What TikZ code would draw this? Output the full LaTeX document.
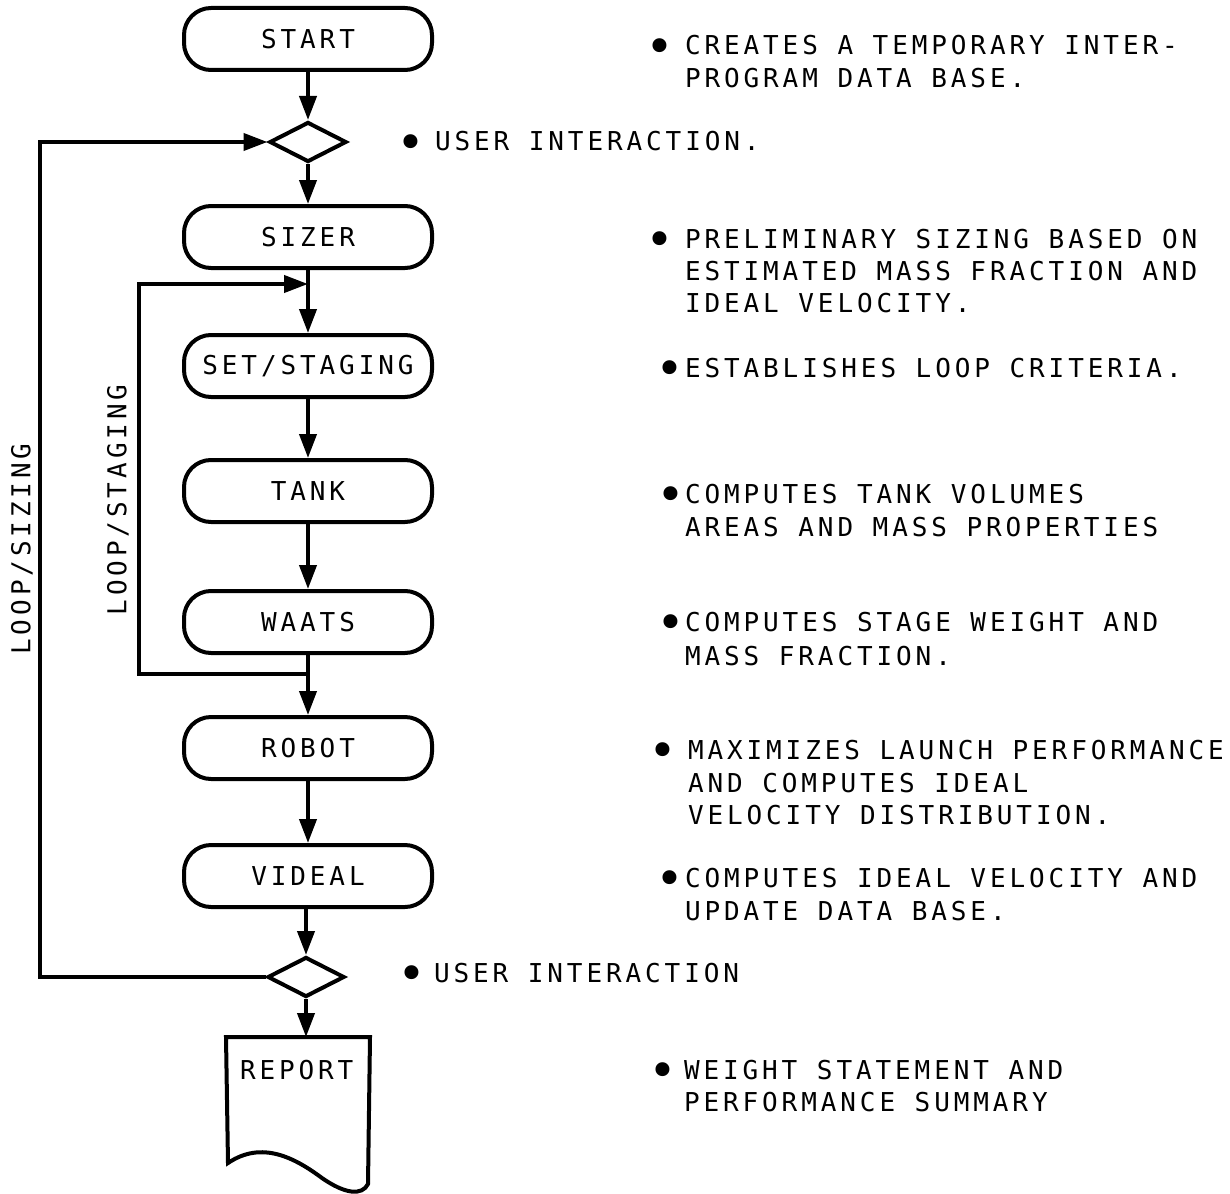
\documentclass[tikz,border=0pt]{standalone}
\usepackage{fontspec}
\usetikzlibrary{shapes.geometric,arrows.meta}
\newfontfamily\lettering[LetterSpace=15]{DejaVu Sans Mono}
\newcommand{\letfont}{\lettering\fontsize{26}{32}\selectfont}
\newcommand{\bulfont}{\lettering\fontsize{48}{48}\selectfont}
\begin{document}
\begin{tikzpicture}[x=1pt,y=-1pt,
  line width=4pt, line join=miter,
  term/.style={draw, rounded corners=27pt, minimum width=248pt, minimum height=62pt, inner sep=0pt, font=\letfont},
  dec/.style={draw, diamond, minimum width=77pt, minimum height=40pt, inner sep=0pt},
  arr/.style={-{Triangle[length=24pt,width=17pt]}},
  desc/.style={anchor=base west, inner sep=0pt, font=\letfont},
  bul/.style={anchor=base, inner sep=0pt, font=\bulfont, yshift=-8.5pt},
  vlab/.style={rotate=90, inner sep=0pt, font=\letfont}
]
\useasboundingbox (0,0) rectangle (1230,1193);

% flow nodes
\node[term] (start) at (308,39) {START};
\node[dec] (d1) at (308,142) {};
\node[term] (sizer) at (308,237) {SIZER};
\node[term] (set) at (308,366) {SET/STAGING};
\node[term] (tank) at (308,491) {TANK};
\node[term] (waats) at (308,622) {WAATS};
\node[term] (robot) at (308,748) {ROBOT};
\node[term] (videal) at (308,876) {VIDEAL};
\node[dec] (d2) at (306,977) {};
\node[minimum width=140pt, minimum height=1pt, inner sep=0pt, anchor=north] (report) at (298,1037) {};
\node[anchor=west, inner sep=0pt, font=\letfont] (reptxt) at (238,1070) {REPORT};

% document shape
\draw (report.north west) -- (report.north east) -- (368,1184)
  .. controls (362,1196) and (345,1194) .. (322,1178)
  .. controls (295,1158) and (262,1140) .. (228,1163) -- cycle;

% main connectors
\draw[arr] (start) -- (d1);
\draw[arr] (d1) -- (sizer);
\draw[arr] (sizer) -- (set);
\draw[arr] (set) -- (tank);
\draw[arr] (tank) -- (waats);
\draw[arr] (waats) -- (robot);
\draw[arr] (robot) -- (videal);
\draw[arr] (videal.south -| d2.north) -- (d2.north);
\draw[arr] (d2.south) -- (d2.south |- report.north);

% loop / sizing
\coordinate (ls1) at (40,977);
\coordinate (ls2) at (40,142);
\draw[arr] (d2.west) -- (ls1) -- (ls2) -- (d1.west);

% loop / staging
\coordinate (st0) at (308,674);
\coordinate (st1) at (139,674);
\coordinate (st2) at (139,284);
\coordinate (st3) at (308,284);
\draw[arr] (st0) -- (st1) -- (st2) -- (st3);

% vertical labels
\node[vlab] (lsiz) at (22,549) {LOOP/SIZING};
\node[vlab] (lstg) at (118,500) {LOOP/STAGING};

% descriptions
\node[bul] (b1) at (660,55) {•};
\node[desc] (t1a) at (683,55) {CREATES A TEMPORARY INTER-};
\node[desc] (t1b) at (683,88) {PROGRAM DATA BASE.};

\node[bul] (b2) at (411,151) {•};
\node[desc] (t2a) at (433,151) {USER INTERACTION.};

\node[bul] (b3) at (660,248) {•};
\node[desc] (t3a) at (683,248) {PRELIMINARY SIZING BASED ON};
\node[desc] (t3b) at (683,280) {ESTIMATED MASS FRACTION AND};
\node[desc] (t3c) at (683,312) {IDEAL VELOCITY.};

\node[bul] (b4) at (670,377) {•};
\node[desc] (t4a) at (683,377) {ESTABLISHES LOOP CRITERIA.};

\node[bul] (b5) at (671,503) {•};
\node[desc] (t5a) at (683,503) {COMPUTES TANK VOLUMES};
\node[desc] (t5b) at (683,536) {AREAS AND MASS PROPERTIES};

\node[bul] (b6) at (671,631) {•};
\node[desc] (t6a) at (683,631) {COMPUTES STAGE WEIGHT AND};
\node[desc] (t6b) at (683,665) {MASS FRACTION.};

\node[bul] (b7) at (663,759) {•};
\node[desc] (t7a) at (686,759) {MAXIMIZES LAUNCH PERFORMANCE};
\node[desc] (t7b) at (686,792) {AND COMPUTES IDEAL};
\node[desc] (t7c) at (686,824) {VELOCITY DISTRIBUTION.};

\node[bul] (b8) at (670,887) {•};
\node[desc] (t8a) at (683,887) {COMPUTES IDEAL VELOCITY AND};
\node[desc] (t8b) at (683,920) {UPDATE DATA BASE.};

\node[bul] (b9) at (412,982) {•};
\node[desc] (t9a) at (432,982) {USER INTERACTION};

\node[bul] (b10) at (663,1079) {•};
\node[desc] (t10a) at (682,1079) {WEIGHT STATEMENT AND};
\node[desc] (t10b) at (682,1111) {PERFORMANCE SUMMARY};
\end{tikzpicture}
\end{document}
